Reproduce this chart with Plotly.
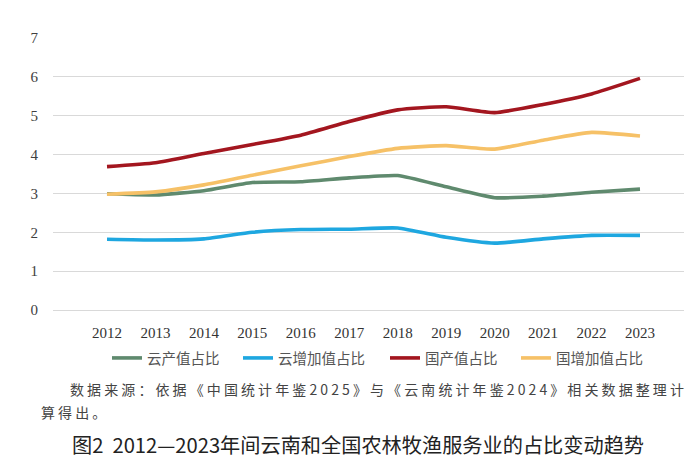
import plotly.graph_objects as go

years = [2012, 2013, 2014, 2015, 2016, 2017, 2018, 2019, 2020, 2021, 2022, 2023]
yn_output = [2.99, 2.96, 3.07, 3.28, 3.30, 3.40, 3.46, 3.17, 2.89, 2.93, 3.03, 3.11]
yn_value_added = [1.82, 1.80, 1.83, 2.00, 2.07, 2.08, 2.11, 1.87, 1.72, 1.83, 1.92, 1.92]
cn_output = [3.69, 3.79, 4.03, 4.26, 4.50, 4.85, 5.15, 5.23, 5.08, 5.29, 5.56, 5.96]
cn_value_added = [2.98, 3.04, 3.22, 3.47, 3.71, 3.95, 4.16, 4.23, 4.14, 4.37, 4.57, 4.48]

names = ["云产值占比", "云增加值占比", "国产值占比", "国增加值占比"]
colors = ["#5f8a6e", "#1ea7e0", "#a3161f", "#f6c167"]
series = [yn_output, yn_value_added, cn_output, cn_value_added]

W, H = 700, 463
L, R, T, B = 53, 684, 38, 310  # plot area pixel box

def px(x):
    return (x - L) / (R - L)

def py(y):
    return (B - y) / (B - T)

legend_ids = ["legend", "legend2", "legend3", "legend4"]
legend_text_x = [147, 278, 425, 556]

fig = go.Figure()
for n, c, s, lid in zip(names, colors, series, legend_ids):
    fig.add_trace(go.Scatter(
        x=years, y=s, name=n, mode="lines", legend=lid,
        line=dict(color=c, width=3.6, shape="spline", smoothing=0.5),
    ))

# category spacing in pixels: 2012 at x=107, 2023 at x=640
step = (640 - 107) / 11
x0 = 2012 - (107 - L) / step
x1 = 2023 + (R - 640) / step

leg_font = dict(family="Noto Sans CJK SC", size=14.5, color="#555555")
legends = {}
for lid, tx in zip(legend_ids, legend_text_x):
    legends[lid] = dict(
        orientation="h", x=px(tx - 40), xanchor="left", y=py(358), yanchor="middle",
        font=leg_font, bgcolor="rgba(0,0,0,0)",
    )

fig.update_layout(
    width=W, height=H,
    margin=dict(l=L, r=W - R, t=T, b=H - B),
    plot_bgcolor="white", paper_bgcolor="white",
    showlegend=True,
    **legends,
    xaxis=dict(
        range=[x0, x1], tickmode="array", tickvals=years,
        ticktext=[str(y) for y in years],
        showgrid=False, zeroline=False, showline=False,
        tickfont=dict(family="Liberation Serif", size=15, color="#333333"),
        ticks="", ticklabelstandoff=12,
    ),
    yaxis=dict(
        range=[0, 7], dtick=1, tick0=0,
        showgrid=True, gridcolor="#d9d9d9", gridwidth=1,
        zeroline=True, zerolinecolor="#d9d9d9", zerolinewidth=1,
        showline=False, ticks="",
        tickfont=dict(family="Liberation Serif", size=15, color="#404040"),
        ticklabelstandoff=14,
    ),
)

src_font = dict(family="Noto Sans CJK SC", size=14, color="#444444")
fig.add_annotation(
    xref="paper", yref="paper", x=px(68), y=py(389), xanchor="left", yanchor="middle",
    text='<span style="letter-spacing:3.1px">数据来源：依据《中国统计年鉴2025》与《云南统计年鉴2024》相关数据整理计</span>',
    showarrow=False, font=src_font,
)
fig.add_annotation(
    xref="paper", yref="paper", x=px(39), y=py(412), xanchor="left", yanchor="middle",
    text='<span style="letter-spacing:3.1px">算得出。</span>',
    showarrow=False, font=src_font,
)
fig.add_annotation(
    xref="paper", yref="paper", x=px(358), y=py(444), xanchor="center", yanchor="middle",
    text="图2  2012—2023年间云南和全国农林牧渔服务业的占比变动趋势",
    showarrow=False, font=dict(family="Noto Sans CJK SC", size=20.2, color="#222222"),
)

fig.write_html("out.html", config={"displayModeBar": False},
               post_script="document.body.style.margin='0';")
